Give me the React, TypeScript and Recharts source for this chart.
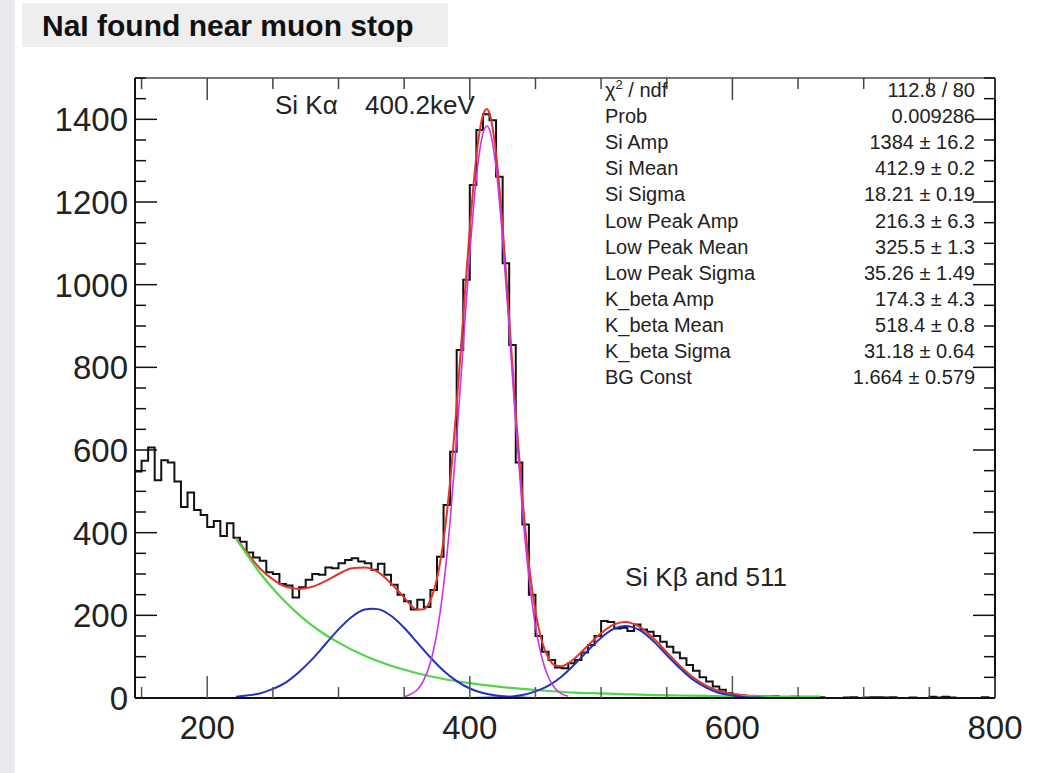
import React from 'react';
import { ComposedChart, Line, XAxis, YAxis } from 'recharts';

const W = 1052;
const H = 773;
// plot frame in page pixels (set through axis widths/heights below)
const PLOT = { left: 135, right: 995, top: 78, bottom: 698 };

// histogram: 5 keV bins starting at 145
const BIN_START = 145;
const BIN_WIDTH = 5;
const counts = [
  548, 574, 606, 527, 575, 570, 524, 462, 497, 455, 443, 414, 428, 392, 423, 388,
  378, 352, 340, 332, 304, 300, 276, 272, 243, 268, 286, 300, 298, 316, 314, 326,
  334, 338, 330, 326, 310, 325, 298, 274, 250, 234, 214, 238, 220,
  261, 342, 467, 596, 842, 1012, 1241, 1374, 1412, 1398, 1261, 1052, 854, 570, 420, 250, 150,
  112, 92, 74, 72, 84, 92, 110, 128, 150, 186, 184, 168, 170, 162, 178, 166, 160, 150,
  136, 124, 110, 96, 80, 66, 50, 40, 28, 20, 12, 8,
  6, 4, 5, 3, 2, 4, 2, 1, 3, 1, 2, 1, 2, 0, 0, 0, 1, 2, 0, 1, 2, 2, 1, 2, 0, 0, 1, 0,
  0, 3, 1, 3, 1, 0, 0, 0, 0, 2, 0,
];

// fit curves: [energy, counts]
const totalFit: [number, number][] = [
  [222, 388], [230, 353], [240, 314], [250, 287], [260, 269], [270, 264], [280, 269],
  [290, 283], [300, 300], [310, 314], [320, 316], [330, 305], [340, 277], [350, 243],
  [355, 225], [360, 214], [365, 215], [370, 237], [375, 289], [380, 382], [385, 523],
  [390, 709], [395, 923], [400, 1136], [405, 1311], [410, 1410], [413, 1425], [415, 1414],
  [420, 1317], [425, 1141], [430, 918], [435, 688], [440, 488], [445, 325], [450, 210],
  [455, 136], [460, 96], [465, 79], [470, 77], [475, 84], [480, 96], [490, 127],
  [500, 157], [510, 178], [518, 184], [530, 171], [540, 144], [550, 111], [560, 78],
  [570, 50], [580, 30], [590, 17], [600, 10], [610, 6], [620, 5], [640, 3], [667, 3],
];

const background: [number, number][] = [
  [222, 385], [230, 348], [240, 303], [250, 265], [260, 231], [270, 201], [280, 175],
  [290, 153], [300, 134], [320, 102], [340, 78], [360, 60], [380, 46], [400, 36],
  [420, 28], [440, 22], [460, 17], [480, 13], [500, 11], [520, 9], [540, 7], [560, 6],
  [580, 5], [600, 4], [620, 4], [640, 3], [667, 3],
];

const lowPeak: [number, number][] = [
  [222, 3], [230, 6], [240, 11], [250, 22], [260, 38], [270, 63], [280, 94], [290, 130],
  [300, 166], [310, 196], [320, 214], [326, 216], [330, 215], [340, 199], [350, 170],
  [360, 134], [370, 98], [380, 66], [390, 41], [400, 23], [410, 12], [420, 6], [430, 3],
  [440, 1], [450, 0], [500, 0], [600, 0], [667, 0],
];

const siPeak: [number, number][] = [
  [350, 3], [355, 9], [360, 20], [365, 44], [370, 86], [375, 159], [380, 271], [385, 428],
  [390, 628], [395, 854], [400, 1077], [405, 1260], [410, 1366], [413, 1384], [415, 1375],
  [420, 1283], [425, 1110], [430, 891], [435, 663], [440, 457], [445, 293], [450, 174],
  [455, 96], [460, 49], [465, 23], [470, 10], [475, 4],
];

const kbetaPeak: [number, number][] = [
  [222, 0], [300, 0], [400, 0], [420, 1], [440, 7], [450, 16], [460, 30], [470, 52],
  [480, 82], [490, 115], [500, 146], [510, 168], [518, 174], [530, 163], [540, 137],
  [550, 104], [560, 72], [570, 44], [580, 25], [590, 12], [600, 6], [610, 2], [620, 1],
  [640, 0], [667, 0],
];

const X_DOMAIN: [number, number] = [145, 800];
const Y_DOMAIN: [number, number] = [0, 1500];
const X_TICKS = [150, 200, 250, 300, 350, 400, 450, 500, 550, 600, 650, 700, 750, 800];
const X_LABELS = [200, 400, 600, 800];
const Y_TICKS = [
  0, 50, 100, 150, 200, 250, 300, 350, 400, 450, 500, 550, 600, 650, 700, 750,
  800, 850, 900, 950, 1000, 1050, 1100, 1150, 1200, 1250, 1300, 1350, 1400, 1450, 1500,
];
const Y_LABELS = [0, 200, 400, 600, 800, 1000, 1200, 1400];

const statNames = [
  'Prob', 'Si Amp', 'Si Mean', 'Si Sigma', 'Low Peak Amp', 'Low Peak Mean',
  'Low Peak Sigma', 'K_beta Amp', 'K_beta Mean', 'K_beta Sigma', 'BG Const',
];
const statValues = [
  '0.009286', '1384 \u00b1 16.2', '412.9 \u00b1 0.2', '18.21 \u00b1 0.19', '216.3 \u00b1 6.3',
  '325.5 \u00b1 1.3', '35.26 \u00b1 1.49', '174.3 \u00b1 4.3', '518.4 \u00b1 0.8',
  '31.18 \u00b1 0.64', '1.664 \u00b1 0.579',
];

const FONT = '"Liberation Sans", Arial, Helvetica, sans-serif';
const MAJOR = 22;
const MINOR = 11;

const histData = [
  ...counts.map((c, i) => ({ x: BIN_START + i * BIN_WIDTH, y: c })),
  { x: X_DOMAIN[1], y: counts[counts.length - 1] },
];
const toPts = (arr: [number, number][]) => arr.map(([x, y]) => ({ x, y }));

const LeftTick = (props: any) => {
  const v = props.payload.value;
  const major = Y_LABELS.includes(v);
  return (
    <g>
      <line x1={PLOT.left} x2={PLOT.left + (major ? MAJOR : MINOR)} y1={props.y} y2={props.y} stroke="#111" strokeWidth={1.5} />
      {major && (
        <text x={PLOT.left - 7} y={props.y} dy="0.36em" textAnchor="end" fontSize={33} fill="#222" fontFamily={FONT}>
          {v}
        </text>
      )}
    </g>
  );
};

const RightTick = (props: any) => {
  const v = props.payload.value;
  const major = Y_LABELS.includes(v);
  return (
    <line x1={PLOT.right} x2={PLOT.right - (major ? MAJOR : MINOR)} y1={props.y} y2={props.y} stroke="#111" strokeWidth={1.5} />
  );
};

const BottomTick = (props: any) => {
  const v = props.payload.value;
  const major = X_LABELS.includes(v);
  return (
    <g>
      <line x1={props.x} x2={props.x} y1={PLOT.bottom} y2={PLOT.bottom - (major ? MAJOR : MINOR)} stroke="#555" strokeWidth={1.5} />
      {major && (
        <text x={props.x} y={PLOT.bottom + 41} textAnchor="middle" fontSize={33} fill="#222" fontFamily={FONT}>
          {v}
        </text>
      )}
    </g>
  );
};

const TopTick = (props: any) => {
  const v = props.payload.value;
  const major = X_LABELS.includes(v);
  return (
    <line x1={props.x} x2={props.x} y1={PLOT.top} y2={PLOT.top + (major ? MAJOR : MINOR)} stroke="#444" strokeWidth={1.5} />
  );
};

export default function App() {
  const rowY = (i: number) => 97 + i * 26.1;
  return (
    <div style={{ position: 'absolute', left: 0, top: 0, width: W, height: H, background: '#e9eaee', overflow: 'hidden' }}>
      <div style={{ position: 'absolute', left: 15, top: 0, width: W - 15, height: H, background: '#ffffff' }} />
      <div style={{ position: 'absolute', left: 0, top: 0 }}>
        <ComposedChart width={W} height={H} margin={{ top: 0, right: 0, bottom: 0, left: 0 }}>
          <XAxis
            dataKey="x"
            type="number"
            domain={X_DOMAIN}
            allowDataOverflow
            ticks={X_TICKS}
            interval={0}
            height={H - PLOT.bottom}
            tickLine={false}
            tickSize={0}
            axisLine={{ stroke: '#111', strokeWidth: 2 }}
            tick={<BottomTick />}
          />
          <XAxis
            xAxisId="top"
            orientation="top"
            dataKey="x"
            type="number"
            domain={X_DOMAIN}
            allowDataOverflow
            ticks={X_TICKS}
            interval={0}
            height={PLOT.top}
            tickLine={false}
            tickSize={0}
            axisLine={{ stroke: '#777', strokeWidth: 2 }}
            tick={<TopTick />}
          />
          <YAxis
            type="number"
            domain={Y_DOMAIN}
            allowDataOverflow
            ticks={Y_TICKS}
            interval={0}
            width={PLOT.left}
            tickLine={false}
            tickSize={0}
            axisLine={{ stroke: '#111', strokeWidth: 2 }}
            tick={<LeftTick />}
          />
          <YAxis
            yAxisId="right"
            orientation="right"
            type="number"
            domain={Y_DOMAIN}
            allowDataOverflow
            ticks={Y_TICKS}
            interval={0}
            width={W - PLOT.right}
            tickLine={false}
            tickSize={0}
            axisLine={{ stroke: '#111', strokeWidth: 2 }}
            tick={<RightTick />}
          />
          <Line data={histData} dataKey="y" type="stepAfter" stroke="#111" strokeWidth={2} dot={false} activeDot={false} isAnimationActive={false} />
          <Line data={toPts(totalFit)} dataKey="y" type="monotone" stroke="#e2352c" strokeWidth={2} dot={false} activeDot={false} isAnimationActive={false} />
          <Line data={toPts(background)} dataKey="y" type="monotone" stroke="#4fd64a" strokeWidth={2.2} dot={false} activeDot={false} isAnimationActive={false} />
          <Line data={toPts(lowPeak)} dataKey="y" type="monotone" stroke="#2233bb" strokeWidth={2} dot={false} activeDot={false} isAnimationActive={false} />
          <Line data={toPts(kbetaPeak)} dataKey="y" type="monotone" stroke="#2233bb" strokeWidth={2} dot={false} activeDot={false} isAnimationActive={false} />
          <Line data={toPts(siPeak)} dataKey="y" type="monotone" stroke="#cc33e6" strokeWidth={1.6} dot={false} activeDot={false} isAnimationActive={false} />
        </ComposedChart>
      </div>
      <svg width={W} height={H} style={{ position: 'absolute', left: 0, top: 0, pointerEvents: 'none' }} fontFamily={FONT}>
        <rect x={22} y={3} width={426} height={44} fill="#eeeeee" />
        <text x={42} y={36} fontSize={30} fontWeight="bold" fill="#111">NaI found near muon stop</text>

        <text x={275} y={114} fontSize={26} fill="#222">Si K{'\u03b1'}</text>
        <text x={365} y={114} fontSize={26} fill="#222">400.2keV</text>
        <text x={625} y={586} fontSize={26} fill="#222">Si K{'\u03b2'} and 511</text>

        <text x={605} y={rowY(0)} fontSize={20} fill="#222">
          {'\u03c7'}<tspan fontSize={13} dy={-8}>2</tspan><tspan dy={8}> / ndf</tspan>
        </text>
        <text x={975} y={rowY(0)} fontSize={20} fill="#222" textAnchor="end">112.8 / 80</text>
        {statNames.map((n, i) => (
          <text key={n} x={605} y={rowY(i + 1)} fontSize={20} fill="#222">{n}</text>
        ))}
        {statValues.map((v, i) => (
          <text key={i} x={975} y={rowY(i + 1)} fontSize={20} fill="#222" textAnchor="end">{v}</text>
        ))}
      </svg>
    </div>
  );
}
